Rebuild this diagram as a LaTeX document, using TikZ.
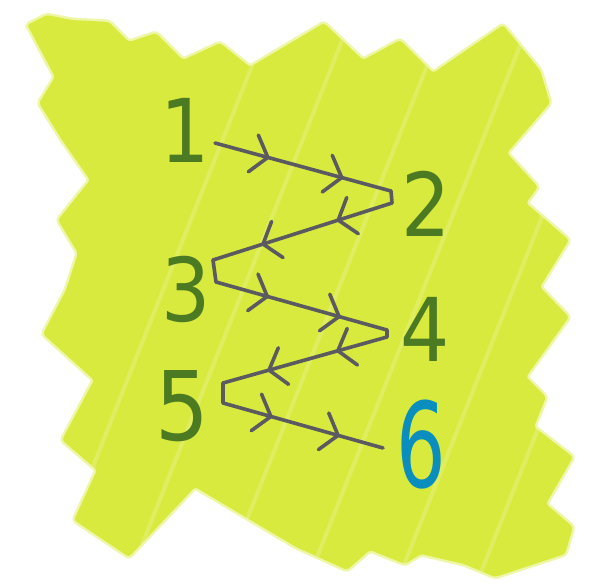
\documentclass[tikz,border=0pt]{standalone}
\usepackage{fontspec}
\newfontfamily\handfont[FakeStretch=0.88]{DejaVu Sans}
\newfontfamily\handfontnarrow[FakeStretch=0.66]{DejaVu Sans}
\usetikzlibrary{arrows.meta, decorations.markings}
\definecolor{blobgreen}{RGB}{217,234,62}
\definecolor{digitgreen}{RGB}{76,122,34}
\definecolor{digitblue}{RGB}{10,142,190}
\definecolor{trailgrey}{RGB}{90,90,96}

\begin{document}
\begin{tikzpicture}[x=1pt, y=-1pt,
    digit/.style={text=digitgreen, inner sep=0pt,
        font=\handfont\fontsize{88}{88}\selectfont},
    lastdigit/.style={text=digitblue, inner sep=0pt,
        font=\handfontnarrow\fontsize{118}{118}\selectfont},
    trail/.style={draw=trailgrey, line width=3.6pt, line cap=round, line join=round},
    leg/.style={trail, postaction={decorate}, decoration={markings,
        mark=at position 0.31 with {\arrow{Straight Barb[round, length=15pt, width=38pt]}},
        mark=at position 0.73 with {\arrow{Straight Barb[round, length=15pt, width=38pt]}}}},
    streak/.style={draw=white, opacity=0.18, line width=4pt, line cap=round}
]
\useasboundingbox (0,0) rectangle (609,587);

% highlighter blob
\fill[blobgreen, rounded corners=3pt,
    preaction={draw=blobgreen, line width=5pt, opacity=0.45},
    path picture={
      \foreach \sx in {40,120,215,300,390,470,560}
        \draw[streak] (\sx,600) -- ++(250,-630);
    }]
  (27,25) -- (47,15) -- (72,20) -- (109,22) -- (129,42) -- (156,33) -- (183,60)
  -- (220,43) -- (250,67) -- (324,23) -- (363,60) -- (400,40) -- (433,73)
  -- (503,25) -- (540,70) -- (550,103) -- (507,153) -- (538,187) -- (526,203)
  -- (569,240) -- (540,287) -- (569,317) -- (526,377) -- (546,397) -- (534,427)
  -- (573,457) -- (546,504) -- (573,527) -- (565,554) -- (495,577) -- (464,564)
  -- (421,554) -- (405,564) -- (370,550) -- (347,570) -- (296,547) -- (195,487)
  -- (129,557) -- (74,520) -- (97,470) -- (62,440) -- (94,380) -- (43,334)
  -- (66,290) -- (78,253) -- (58,220) -- (90,180) -- (62,140) -- (39,103)
  -- (55,77) -- (29,28) -- cycle;

% digits
\node (One) [digit] at (185,130) {1};
\node (Two) [digit] at (426,204) {2};
\node (Three) [digit] at (186,289) {3};
\node (Four) [digit] at (425,329) {4};
\node (Five) [digit, font=\handfont\fontsize{96}{96}\selectfont] at (182,406) {5};
\node (Six) [lastdigit] at (421,445) {6};

% zigzag trail
\coordinate (t0) at (215,143);
\coordinate (t1) at (391,191);
\coordinate (t2) at (392,203);
\coordinate (t3) at (213,260);
\coordinate (t4) at (216,282);
\coordinate (t5) at (387,330);
\coordinate (t6) at (387,337);
\coordinate (t7) at (223,383);
\coordinate (t8) at (223,403);
\coordinate (t9) at (383,448);

\draw[trail] (t1) -- (t2) (t3) -- (t4) (t5) -- (t6) (t7) -- (t8);
\foreach \a/\b in {t0/t1, t2/t3, t4/t5, t6/t7, t8/t9}
  \draw[leg] (\a) -- (\b);

\end{tikzpicture}
\end{document}
